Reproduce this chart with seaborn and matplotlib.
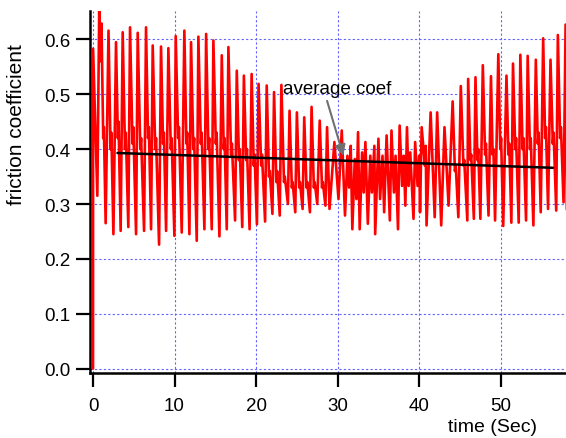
import pandas as pd
import seaborn as sns
import matplotlib.pyplot as plt

# friction trace, main turning points (time in s, coefficient)
time_s = [
    0.00, 0.01, 0.53, 0.76, 0.88, 1.04, 1.55, 1.90, 2.50, 2.82,
    3.39, 3.64, 4.33, 4.54, 5.28, 5.48, 6.26, 6.50, 7.12, 7.32,
    8.10, 8.34, 8.96, 9.24, 9.98, 10.14, 10.88, 11.20, 11.82, 12.02,
    12.72, 12.92, 13.66, 13.87, 14.56, 14.76, 15.50, 15.79, 16.40, 16.60,
    17.42, 17.63, 18.30, 18.50, 19.20, 19.45, 20.10, 20.30, 21.10, 21.30,
    22.00, 22.20, 22.90, 23.10, 23.90, 24.10, 24.80, 25.00, 25.70, 25.90,
    26.60, 26.80, 27.50, 27.80, 28.50, 28.70, 29.00, 29.60, 30.10, 30.50,
    30.90, 31.20, 31.40, 31.60, 31.80, 32.10, 32.30, 32.50, 32.70, 33.00,
    33.20, 33.40, 33.70, 34.00, 34.20, 34.50, 34.60, 35.00, 35.20, 35.50,
    35.70, 36.00, 36.40, 36.60, 36.90, 37.10, 37.40, 37.60, 37.90, 38.10,
    38.30, 38.50, 38.70, 38.90, 39.30, 39.50, 39.80, 40.00, 40.10, 40.30,
    40.70, 40.80, 40.90, 41.40, 41.90, 42.20, 42.70, 43.10, 43.60, 44.10,
    44.80, 45.10, 45.90, 46.00, 46.70, 46.90, 47.50, 47.80, 48.50, 48.80,
    49.30, 49.70, 50.30, 50.70, 51.30, 51.50, 52.20, 52.40, 53.10, 53.30,
    54.00, 54.30, 54.90, 55.20, 55.80, 56.10, 56.80, 57.00, 57.70, 57.95,
    58.10,
]
friction = [
    0.000, 0.583, 0.315, 0.653, 0.560, 0.629, 0.265, 0.616, 0.245, 0.595,
    0.251, 0.613, 0.258, 0.622, 0.245, 0.612, 0.251, 0.622, 0.254, 0.589,
    0.226, 0.587, 0.251, 0.584, 0.242, 0.606, 0.248, 0.616, 0.245, 0.595,
    0.233, 0.605, 0.254, 0.610, 0.254, 0.598, 0.241, 0.571, 0.254, 0.586,
    0.270, 0.543, 0.258, 0.534, 0.254, 0.537, 0.263, 0.519, 0.268, 0.516,
    0.282, 0.504, 0.279, 0.517, 0.300, 0.470, 0.285, 0.467, 0.291, 0.458,
    0.285, 0.477, 0.300, 0.452, 0.297, 0.440, 0.291, 0.413, 0.309, 0.434,
    0.279, 0.388, 0.330, 0.406, 0.254, 0.382, 0.309, 0.431, 0.254, 0.394,
    0.321, 0.413, 0.264, 0.388, 0.321, 0.406, 0.245, 0.419, 0.309, 0.388,
    0.285, 0.425, 0.270, 0.434, 0.321, 0.388, 0.254, 0.443, 0.333, 0.388,
    0.297, 0.440, 0.333, 0.394, 0.273, 0.413, 0.333, 0.388, 0.285, 0.440,
    0.370, 0.406, 0.261, 0.467, 0.276, 0.467, 0.261, 0.440, 0.297, 0.487,
    0.276, 0.515, 0.270, 0.528, 0.273, 0.531, 0.273, 0.553, 0.279, 0.533,
    0.270, 0.573, 0.260, 0.534, 0.266, 0.556, 0.266, 0.572, 0.270, 0.570,
    0.261, 0.563, 0.285, 0.602, 0.291, 0.563, 0.288, 0.608, 0.303, 0.627,
    0.290,
]

# small shoulders on the falling side of the spikes
shoulder_t = [
    1.25, 1.33, 2.15, 2.25, 3.05, 3.13, 3.92, 4.02, 4.84, 4.94,
    5.80, 5.90, 6.75, 6.85, 7.63, 7.73, 8.59, 8.69, 9.54, 9.64,
    10.44, 10.54, 11.45, 11.55, 12.30, 12.40, 13.22, 13.32, 14.15, 14.25,
    15.06, 15.16, 16.03, 16.13, 16.93, 17.03, 17.90, 18.00, 18.78, 18.88,
    19.71, 19.81, 20.62, 20.72, 21.58, 21.68, 22.48, 22.58, 23.42, 23.52,
    24.38, 24.48, 25.28, 25.38, 26.18, 26.28, 27.08, 27.18, 28.08, 28.18,
    44.38, 44.48, 45.42, 45.52, 46.28, 46.38, 47.14, 47.24, 48.08, 48.18,
    49.00, 49.10, 49.94, 50.04, 50.94, 51.04, 51.78, 51.88, 52.68, 52.78,
    53.58, 53.68, 54.54, 54.64, 55.44, 55.54, 56.38, 56.48, 57.28, 57.38,
]
shoulder_v = [
    0.42, 0.44, 0.40, 0.43, 0.42, 0.45, 0.40, 0.43, 0.41, 0.44,
    0.40, 0.42, 0.42, 0.44, 0.40, 0.42, 0.41, 0.43, 0.40, 0.42,
    0.42, 0.44, 0.41, 0.43, 0.40, 0.42, 0.41, 0.43, 0.40, 0.42,
    0.41, 0.43, 0.40, 0.42, 0.39, 0.41, 0.38, 0.40, 0.38, 0.40,
    0.37, 0.39, 0.37, 0.39, 0.35, 0.36, 0.34, 0.36, 0.34, 0.35,
    0.33, 0.34, 0.33, 0.34, 0.33, 0.34, 0.33, 0.34, 0.33, 0.34,
    0.36, 0.37, 0.37, 0.38, 0.38, 0.39, 0.38, 0.40, 0.39, 0.41,
    0.39, 0.40, 0.40, 0.42, 0.39, 0.41, 0.40, 0.42, 0.40, 0.42,
    0.40, 0.42, 0.41, 0.43, 0.42, 0.44, 0.41, 0.43, 0.42, 0.44,
]

# average coefficient line (end points)
avg_t = [3.0, 56.4]
avg_coef = [0.393, 0.366]

trace = pd.concat([
    pd.DataFrame({"time": time_s, "coef": friction}),
    pd.DataFrame({"time": shoulder_t, "coef": shoulder_v}),
]).sort_values("time", kind="stable").reset_index(drop=True)
avg = pd.DataFrame({"time": avg_t, "coef": avg_coef})

sns.set_theme(style="white")
plt.rcParams["font.family"] = ["Liberation Sans", "DejaVu Sans"]

fig = plt.figure(figsize=(5.66, 4.39), dpi=100)
ax = fig.add_axes([0.159, 0.148, 0.841, 0.825])

sns.lineplot(data=trace, x="time", y="coef", sort=False, estimator=None,
             color="red", linewidth=1.9, ax=ax, zorder=3)
sns.lineplot(data=avg, x="time", y="coef", sort=False, estimator=None,
             color="black", linewidth=1.8, ax=ax, zorder=4)

ax.set_xlim(-0.37, 58.0)
ax.set_ylim(-0.008, 0.652)
ax.set_xticks([0, 10, 20, 30, 40, 50])
ax.set_yticks([0.0, 0.1, 0.2, 0.3, 0.4, 0.5, 0.6])
ax.set_yticklabels([f"{v:.1f}" for v in ax.get_yticks()])

ax.grid(True, color="#6464ff", linestyle=(0, (2, 2)), linewidth=0.8)
ax.set_axisbelow(True)

for side in ["top", "right"]:
    ax.spines[side].set_visible(False)
for side in ["left", "bottom"]:
    ax.spines[side].set_color("black")
    ax.spines[side].set_linewidth(1.8)

ax.tick_params(axis="both", bottom=True, left=True, direction="out",
               length=10, width=1.6, color="black", labelsize=13.5,
               labelcolor="black")
ax.tick_params(axis="y", pad=4)
ax.tick_params(axis="x", pad=7)

ax.set_xlabel("time (Sec)", fontsize=14, color="black")
ax.set_ylabel("friction coefficient", fontsize=15, color="black")
ax.xaxis.set_label_coords(0.845, -0.125)
ax.yaxis.set_label_coords(-0.135, 0.69)

ax.text(29.9, 0.510, "average coef", fontsize=13.5, ha="center", va="center",
        color="black", zorder=5)
ax.annotate("", xy=(30.7, 0.388), xytext=(28.7, 0.488),
            arrowprops=dict(arrowstyle="-|>", color="#707070", lw=1.5,
                            mutation_scale=16, shrinkA=0, shrinkB=0),
            zorder=5)

fig.savefig("out.png", dpi=100)
plt.close(fig)
